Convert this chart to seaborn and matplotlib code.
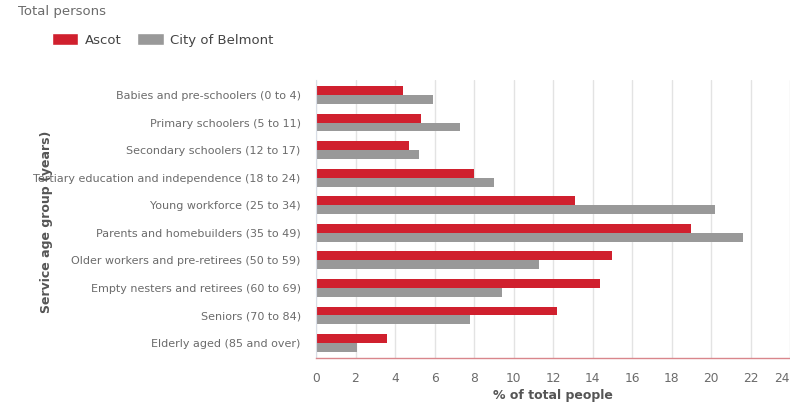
import pandas as pd
import numpy as np
import matplotlib
matplotlib.use('Agg')
import matplotlib.pyplot as plt
import seaborn as sns
from matplotlib.patches import Patch


# service age groups, top to bottom
groups = [
    'Babies and pre-schoolers (0 to 4)',
    'Primary schoolers (5 to 11)',
    'Secondary schoolers (12 to 17)',
    'Tertiary education and independence (18 to 24)',
    'Young workforce (25 to 34)',
    'Parents and homebuilders (35 to 49)',
    'Older workers and pre-retirees (50 to 59)',
    'Empty nesters and retirees (60 to 69)',
    'Seniors (70 to 84)',
    'Elderly aged (85 and over)',
]
ascot = [4.4, 5.3, 4.7, 8.0, 13.1, 19.0, 15.0, 14.4, 12.2, 3.6]
belmont = [5.9, 7.3, 5.2, 9.0, 20.2, 21.6, 11.3, 9.4, 7.8, 2.1]
areas = ['Ascot', 'City of Belmont']
x_ticks = list(range(0, 25, 2))

red = '#d0202e'
grey = '#999999'
text_col = '#6b6b6b'

df = pd.DataFrame({
    'group': groups * 2,
    'area': [areas[0]] * len(groups) + [areas[1]] * len(groups),
    'pct': ascot + belmont,
})

sns.set_style('white')
plt.rcParams['font.family'] = ['DejaVu Sans']

fig = plt.figure(figsize=(7.9, 4.04), dpi=100)
ax = fig.add_axes([316 / 790, 1 - 358 / 404, (790 - 316) / 790, (358 - 80) / 404])

sns.barplot(data=df, y='group', x='pct', hue='area', order=groups, hue_order=areas,
            palette=[red, grey], orient='h', width=0.64, saturation=1,
            linewidth=0, legend=False, ax=ax)

ax.set_xlim(0, 24)
ax.set_ylim(len(groups) - 0.5 + 0.05, -0.5 - 0.05)
ax.set_xticks(x_ticks)
ax.set_xticklabels([str(t) for t in x_ticks])
# keep the last label inside the figure
ax.get_xticklabels()[-1].set_horizontalalignment('right')
ax.grid(axis='x', color='#e3e3e3', linewidth=1)
ax.set_axisbelow(True)

for s in ['top', 'right']:
    ax.spines[s].set_visible(False)
ax.spines['left'].set_color('#d8dde6')
ax.spines['bottom'].set_color('#d9868c')
ax.spines['bottom'].set_linewidth(1)

ax.tick_params(axis='y', length=8, color='#c8d2e0', labelsize=8, labelcolor=text_col, pad=3)
ax.tick_params(axis='x', length=0, labelsize=8.8, labelcolor=text_col, pad=10)

ax.set_xlabel('% of total people', fontsize=9, fontweight='bold', color='#555555', labelpad=3)
ax.set_ylabel('')
fig.text(47 / 790, 1 - 222 / 404, 'Service age group (years)', rotation=90,
         ha='center', va='center', fontsize=9, fontweight='bold', color='#555555')

fig.text(18 / 790, 1 - 12 / 404, 'Total persons', fontsize=9.5, color=text_col,
         ha='left', va='center')

handles = [Patch(facecolor=red), Patch(facecolor=grey)]
fig.legend(handles, areas, loc='center left', bbox_to_anchor=(40 / 790, 1 - 40 / 404),
           ncol=2, frameon=False, fontsize=9.5, handlelength=2.0, handleheight=1.0,
           columnspacing=1.2, handletextpad=0.5, labelcolor='#444444')

fig.savefig('out.png', dpi=100)
